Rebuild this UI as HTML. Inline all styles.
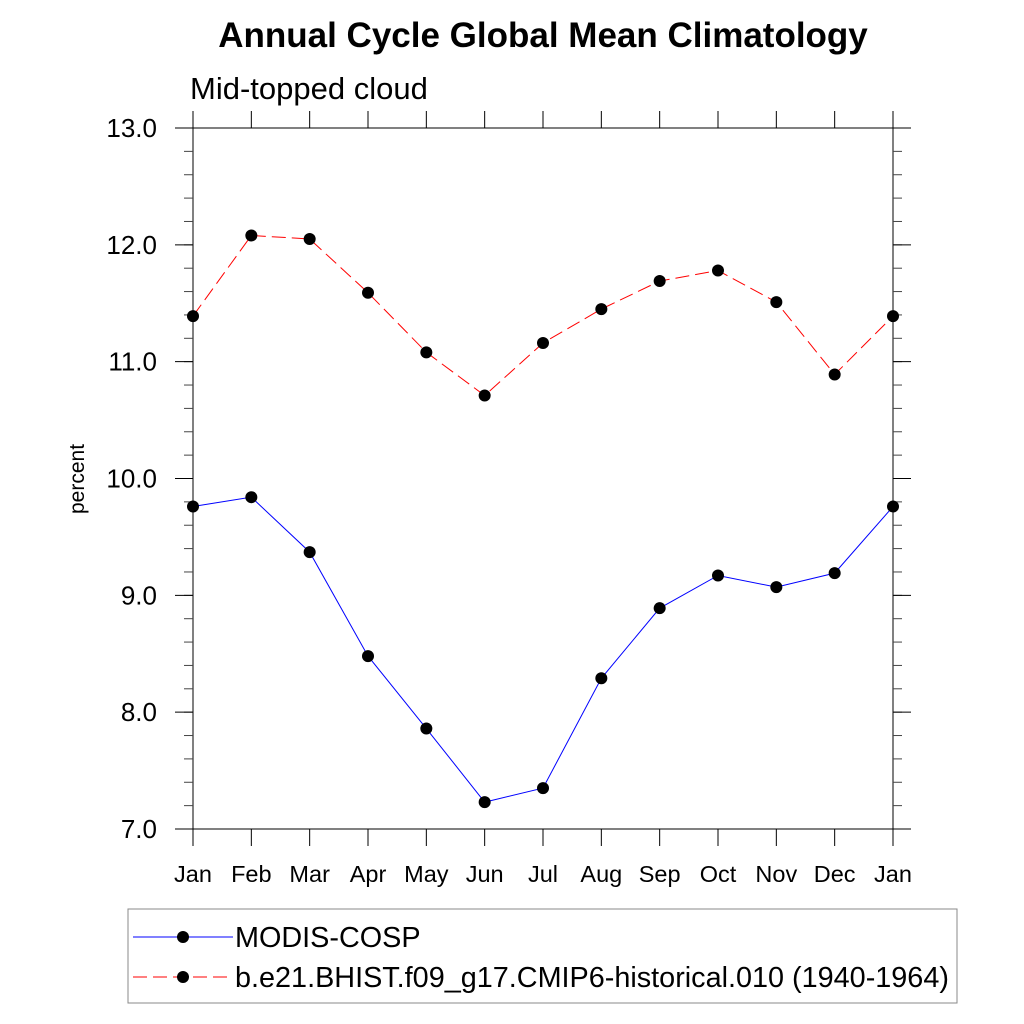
<!DOCTYPE html>
<html><head><meta charset="utf-8"><style>body{margin:0;background:#fff}svg{display:block}text{font-family:"Liberation Sans",sans-serif}</style></head>
<body>
<svg id="chart" width="1024" height="1024" xmlns="http://www.w3.org/2000/svg">
<text x="543" y="47" font-size="35" font-weight="bold" text-anchor="middle">Annual Cycle Global Mean Climatology</text>
<text x="190" y="99" font-size="31">Mid-topped cloud</text>
<text transform="translate(84,479) rotate(-90)" font-size="21" text-anchor="middle">percent</text>
<g id="axes"></g>
<g id="series"></g>
<rect x="128" y="909" width="829" height="94" fill="none" stroke="#888" stroke-width="1"/>
<g>
<line x1="133" y1="937" x2="233" y2="937" stroke="#0000ff" stroke-width="1"/>
<circle cx="183" cy="937" r="6" fill="#000"/>
<text x="235" y="947" font-size="28.8">MODIS-COSP</text>
</g>
<g>
<line x1="133" y1="977" x2="233" y2="977" stroke="#ff0000" stroke-width="1" stroke-dasharray="14,6"/>
<circle cx="183" cy="977" r="6" fill="#000"/>
<text x="235" y="987" font-size="28.8">b.e21.BHIST.f09_g17.CMIP6-historical.010 (1940-1964)</text>
</g>
</svg>
<script>
const months = ["Jan","Feb","Mar","Apr","May","Jun","Jul","Aug","Sep","Oct","Nov","Dec","Jan"];
const modisValues = [9.76,9.84,9.37,8.48,7.86,7.23,7.35,8.29,8.89,9.17,9.07,9.19,9.76];
const modelValues = [11.39,12.08,12.05,11.59,11.08,10.71,11.16,11.45,11.69,11.78,11.51,10.89,11.39];
const yTicks = [7.0,8.0,9.0,10.0,11.0,12.0,13.0];
const yTickLabels = ["7.0","8.0","9.0","10.0","11.0","12.0","13.0"];

const L=193,R=893,T=128,B=829,yMin=7,yMax=13;
const xs=i=>L+(R-L)*i/(months.length-1);
const ys=v=>B-(v-yMin)/(yMax-yMin)*(B-T);
const NS="http://www.w3.org/2000/svg";
function mk(tag,attrs,parent){const e=document.createElementNS(NS,tag);for(const k in attrs)e.setAttribute(k,attrs[k]);parent.appendChild(e);return e;}
const ax=document.getElementById('axes');
const frame=mk('rect',{x:L,y:T,width:R-L,height:B-T,fill:'none',stroke:'#000','stroke-width':1},ax);


for(let v=yMin;v<=yMax+1e-9;v+=0.2){const y=ys(v);
 mk('line',{x1:L-9,y1:y,x2:L,y2:y,stroke:'#444'},ax);
 mk('line',{x1:R,y1:y,x2:R+9,y2:y,stroke:'#444'},ax);}
yTicks.forEach((v,i)=>{const y=ys(v);
 mk('line',{x1:L-18,y1:y,x2:L,y2:y,stroke:'#000'},ax);
 mk('line',{x1:R,y1:y,x2:R+18,y2:y,stroke:'#000'},ax);
 const t=mk('text',{x:L-36,y:y+9,'font-size':26,'text-anchor':'end'},ax);t.textContent=yTickLabels[i];
 
 });
months.forEach((m,i)=>{const x=xs(i);
 mk('line',{x1:x,y1:B,x2:x,y2:B+17,stroke:'#000'},ax);
 mk('line',{x1:x,y1:T-17,x2:x,y2:T,stroke:'#000'},ax);
 const t=mk('text',{x:x,y:882,'font-size':23.5,'text-anchor':'middle'},ax);t.textContent=m;
 
 });
const sg=document.getElementById('series');
function series(vals,color,dash,name){
 const g=mk('g',{},sg);
 
 
 const p=mk('polyline',{points:vals.map((v,i)=>xs(i)+','+ys(v)).join(' '),fill:'none',stroke:color,'stroke-width':1},g);
 if(dash)p.setAttribute('stroke-dasharray',dash);
 vals.forEach((v,i)=>{const c=mk('circle',{cx:xs(i),cy:ys(v),r:6,fill:'#000'},g);
  
  });
}
series(modisValues,'#0000ff',null,'modis-series');
series(modelValues,'#ff0000','14,6','model-series');
</script>
</body></html>
